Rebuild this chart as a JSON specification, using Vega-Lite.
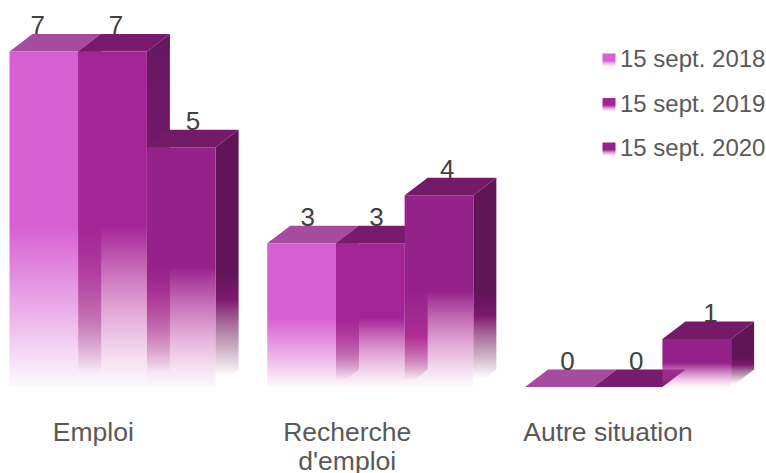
{"$schema":"https://vega.github.io/schema/vega-lite/v6.json","width":766,"height":473,"autosize":"none","padding":0,"background":"white","config":{"view":{"stroke":null},"font":"Liberation Sans"},
"data":{"values":[
{"cat":"Emploi","series":"15 sept. 2018","value":7},{"cat":"Emploi","series":"15 sept. 2019","value":7},{"cat":"Emploi","series":"15 sept. 2020","value":5},
{"cat":"Recherche\nd'emploi","series":"15 sept. 2018","value":3},{"cat":"Recherche\nd'emploi","series":"15 sept. 2019","value":3},{"cat":"Recherche\nd'emploi","series":"15 sept. 2020","value":4},
{"cat":"Autre situation","series":"15 sept. 2018","value":0},{"cat":"Autre situation","series":"15 sept. 2019","value":0},{"cat":"Autre situation","series":"15 sept. 2020","value":1}]},
"transform":[
{"calculate":"indexof(['E','R','A'],datum.cat[0])","as":"ci"},
{"calculate":"indexof(['15 sept. 2018','15 sept. 2019','15 sept. 2020'],datum.series)","as":"si"},
{"calculate":"datum.ci*3.752+datum.si","as":"x0"},
{"calculate":"datum.x0+1","as":"x1"},
{"calculate":"datum.value+0.365","as":"vb"},
{"calculate":"datum.x0+0.5+[[-0.09,0.05,0.17],[0.09,0.09,0.12],[0.12,0.12,0.2]][datum.ci][datum.si]","as":"lx"},
{"calculate":"datum.ci*3.752+1.5+[-0.28,-0.336,-0.293][datum.ci]","as":"cx"},
{"calculate":"-0.68","as":"cy"}
],
"layer":[
{"transform":[{"filter":"datum.si==0 && datum.value>0"},{"calculate":"[0,1]","as":"t"},{"flatten":["t"]},{"calculate":"datum.x1+datum.t*0.335","as":"px"},{"calculate":"datum.value+datum.t*0.365","as":"py"},{"calculate":"datum.t*0.365","as":"py2"}],
"mark":{"type":"area","color":{"gradient":"linear","x1":0,"y1":0,"x2":0,"y2":1,"stops":[{"offset":0,"color":"rgba(150,40,135,1)"},{"offset":0.55,"color":"rgba(150,40,135,1)"},{"offset":0.8,"color":"rgba(150,70,135,0.6)"},{"offset":0.96,"color":"rgba(150,70,135,0)"}]}},
"encoding":{"x":{"field":"px","type":"quantitative","scale":{"domain":[-0.1383,11.012],"nice":false,"zero":false},"axis":null},"y":{"field":"py","type":"quantitative","scale":{"domain":[-1.794,8.074],"nice":false,"zero":false},"axis":null},"y2":{"field":"py2"},"detail":{"field":"cat"}}},
{"transform":[{"filter":"datum.si==0"},{"calculate":"[0,1,2,3]","as":"t"},{"flatten":["t"]},{"calculate":"[datum.x0,datum.x0+0.335,datum.x0+1,datum.x0+1.335][datum.t]","as":"px"},{"calculate":"datum.t==0?datum.value:datum.vb","as":"py"},{"calculate":"datum.t==3?datum.vb:datum.value","as":"py2"}],
"mark":{"type":"area","color":"#A64C9E"},
"encoding":{"x":{"field":"px","type":"quantitative"},"y":{"field":"py","type":"quantitative"},"y2":{"field":"py2"},"detail":{"field":"cat"}}},
{"transform":[{"filter":"datum.si==0 && datum.value>0"}],"mark":{"type":"rect","strokeWidth":0,"fill":{"gradient":"linear","x1":0,"y1":0,"x2":0,"y2":1,"stops":[{"offset":0,"color":"rgba(215,95,210,1)"},{"offset":0.52,"color":"rgba(215,95,210,1)"},{"offset":0.75,"color":"rgba(215,95,210,0.55)"},{"offset":1,"color":"rgba(215,95,210,0.03)"}]}},
"encoding":{"x":{"field":"x0","type":"quantitative"},"x2":{"field":"x1"},"y":{"field":"value","type":"quantitative"},"y2":{"datum":0},
"stroke":{"field":"series","type":"nominal","scale":{"domain":["15 sept. 2018","15 sept. 2019","15 sept. 2020"],"range":["#D75FD2","#A32495","#95228A"]},
"legend":{"title":null,"orient":"none","legendX":597,"legendY":48,"labelFontSize":24,"labelColor":"#595959","labelFont":"Liberation Sans","symbolType":"square","symbolSize":169,"symbolStrokeWidth":0,"labelOffset":-1,"rowPadding":20.5,"padding":0,
"encoding":{"symbols":{"fill":{"value":{"expr":"{id:'legendgrad'+replace(datum.value,/[^0-9]/g,''),gradient:'linear',x1:0,y1:0,x2:0,y2:1,stops:[{offset:0,color:datum.value=='15 sept. 2018'?'#D75FD2':datum.value=='15 sept. 2019'?'#A32495':'#95228A'},{offset:0.55,color:datum.value=='15 sept. 2018'?'#D75FD2':datum.value=='15 sept. 2019'?'#A32495':'#95228A'},{offset:1,color:'rgba(255,235,250,0.6)'}]}"}},"stroke":{"value":"transparent"},"opacity":{"value":1}}}}}}},
{"transform":[{"filter":"datum.si==1 && datum.value>0"},{"calculate":"[0,1]","as":"t"},{"flatten":["t"]},{"calculate":"datum.x1+datum.t*0.335","as":"px"},{"calculate":"datum.value+datum.t*0.365","as":"py"},{"calculate":"datum.t*0.365","as":"py2"}],
"mark":{"type":"area","color":{"gradient":"linear","x1":0,"y1":0,"x2":0,"y2":1,"stops":[{"offset":0,"color":"rgba(101,22,96,1)"},{"offset":0.53,"color":"rgba(125,25,115,1)"},{"offset":0.68,"color":"rgba(165,30,135,1)"},{"offset":0.83,"color":"rgba(175,80,145,0.6)"},{"offset":0.96,"color":"rgba(175,80,145,0)"}]}},
"encoding":{"x":{"field":"px","type":"quantitative"},"y":{"field":"py","type":"quantitative"},"y2":{"field":"py2"},"detail":{"field":"cat"}}},
{"transform":[{"filter":"datum.si==1"},{"calculate":"[0,1,2,3]","as":"t"},{"flatten":["t"]},{"calculate":"[datum.x0,datum.x0+0.335,datum.x0+1,datum.x0+1.335][datum.t]","as":"px"},{"calculate":"datum.t==0?datum.value:datum.vb","as":"py"},{"calculate":"datum.t==3?datum.vb:datum.value","as":"py2"}],
"mark":{"type":"area","color":"#7A1A6E"},
"encoding":{"x":{"field":"px","type":"quantitative"},"y":{"field":"py","type":"quantitative"},"y2":{"field":"py2"},"detail":{"field":"cat"}}},
{"transform":[{"filter":"datum.si==1 && datum.value>0"}],"mark":{"type":"rect","color":{"gradient":"linear","x1":0,"y1":0,"x2":0,"y2":1,"stops":[{"offset":0,"color":"rgba(163,36,149,1)"},{"offset":0.52,"color":"rgba(163,36,149,1)"},{"offset":0.75,"color":"rgba(190,60,165,0.5)"},{"offset":1,"color":"rgba(215,95,190,0.03)"}]}},
"encoding":{"x":{"field":"x0","type":"quantitative"},"x2":{"field":"x1"},"y":{"field":"value","type":"quantitative"},"y2":{"datum":0}}},
{"transform":[{"filter":"datum.si==2 && datum.value>0"},{"calculate":"[0,1]","as":"t"},{"flatten":["t"]},{"calculate":"datum.x1+datum.t*0.335","as":"px"},{"calculate":"datum.value+datum.t*0.365","as":"py"},{"calculate":"datum.t*0.365","as":"py2"}],
"mark":{"type":"area","color":{"gradient":"linear","x1":0,"y1":0,"x2":0,"y2":1,"stops":[{"offset":0,"color":"rgba(95,21,86,1)"},{"offset":0.55,"color":"rgba(95,21,86,1)"},{"offset":0.66,"color":"rgba(125,25,110,1)"},{"offset":0.82,"color":"rgba(150,90,135,0.6)"},{"offset":0.96,"color":"rgba(150,90,135,0)"}]}},
"encoding":{"x":{"field":"px","type":"quantitative"},"y":{"field":"py","type":"quantitative"},"y2":{"field":"py2"},"detail":{"field":"cat"}}},
{"transform":[{"filter":"datum.si==2"},{"calculate":"[0,1,2,3]","as":"t"},{"flatten":["t"]},{"calculate":"[datum.x0,datum.x0+0.335,datum.x0+1,datum.x0+1.335][datum.t]","as":"px"},{"calculate":"datum.t==0?datum.value:datum.vb","as":"py"},{"calculate":"datum.t==3?datum.vb:datum.value","as":"py2"}],
"mark":{"type":"area","color":"#741A69"},
"encoding":{"x":{"field":"px","type":"quantitative"},"y":{"field":"py","type":"quantitative"},"y2":{"field":"py2"},"detail":{"field":"cat"}}},
{"transform":[{"filter":"datum.si==2 && datum.value>0"}],"mark":{"type":"rect","color":{"gradient":"linear","x1":0,"y1":0,"x2":0,"y2":1,"stops":[{"offset":0,"color":"rgba(149,34,138,1)"},{"offset":0.5,"color":"rgba(149,34,138,1)"},{"offset":0.75,"color":"rgba(185,60,160,0.5)"},{"offset":1,"color":"rgba(215,95,190,0.03)"}]}},
"encoding":{"x":{"field":"x0","type":"quantitative"},"x2":{"field":"x1"},"y":{"field":"value","type":"quantitative"},"y2":{"datum":0}}},
{"mark":{"type":"text","fontSize":26,"color":"#404040","baseline":"alphabetic","align":"center","font":"Liberation Sans"},
"encoding":{"x":{"field":"lx","type":"quantitative"},"y":{"field":"vb","type":"quantitative"},"text":{"field":"value","type":"quantitative"}}},
{"transform":[{"filter":"datum.si==1"}],"mark":{"type":"text","fontSize":26.5,"color":"#595959","baseline":"top","align":"center","lineBreak":"\n","lineHeight":29.5,"font":"Liberation Sans"},
"encoding":{"x":{"field":"cx","type":"quantitative"},"y":{"field":"cy","type":"quantitative"},"text":{"field":"cat","type":"nominal"}}}
]}
